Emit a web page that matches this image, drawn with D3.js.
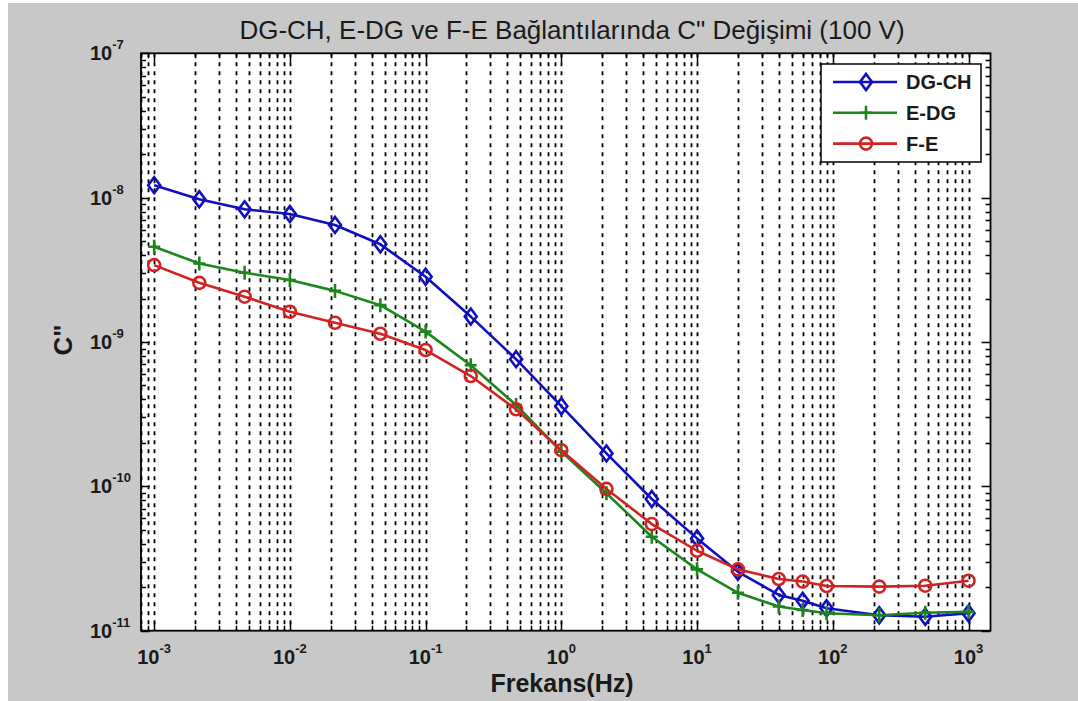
<!DOCTYPE html>
<html><head><meta charset="utf-8">
<script src="https://cdn.jsdelivr.net/npm/d3@7"></script>
<style>
html,body{margin:0;padding:0;background:#fff;}
svg{display:block;}
</style></head>
<body>
<svg id="chart" width="1078" height="701"></svg>
<script>
// ---- data ----
const freqs = [0.001, 0.00215, 0.00464, 0.01, 0.0215, 0.0464, 0.1, 0.215, 0.464, 1, 2.15, 4.64, 10, 20, 40, 60, 90, 220, 480, 1000];
const dgch = [1.22e-8, 9.75e-9, 8.3e-9, 7.7e-9, 6.47e-9, 4.75e-9, 2.83e-9, 1.5e-9, 7.6e-10, 3.59e-10, 1.69e-10, 8.17e-11, 4.36e-11, 2.56e-11, 1.77e-11, 1.61e-11, 1.43e-11, 1.28e-11, 1.25e-11, 1.32e-11];
const edg = [4.57e-9, 3.5e-9, 3.02e-9, 2.69e-9, 2.26e-9, 1.8e-9, 1.18e-9, 6.9e-10, 3.66e-10, 1.74e-10, 8.95e-11, 4.48e-11, 2.66e-11, 1.83e-11, 1.47e-11, 1.39e-11, 1.32e-11, 1.28e-11, 1.33e-11, 1.35e-11];
const fe = [3.41e-9, 2.57e-9, 2.06e-9, 1.62e-9, 1.36e-9, 1.14e-9, 8.8e-10, 5.81e-10, 3.42e-10, 1.78e-10, 9.6e-11, 5.48e-11, 3.58e-11, 2.66e-11, 2.28e-11, 2.19e-11, 2.04e-11, 2.02e-11, 2.05e-11, 2.22e-11];
const seriesNames = ["DG-CH", "E-DG", "F-E"];
const xTickExps = [-3, -2, -1, 0, 1, 2, 3];
const yTickExps = [-7, -8, -9, -10, -11];
const titleText = "DG-CH, E-DG ve F-E Bağlantılarında C\" Değişimi (100 V)";
const xLabelText = "Frekans(Hz)";
const yLabelText = "C\"";

const series = [
  {name: seriesNames[0], values: dgch, color: "#0f0fc0", marker: "diamond"},
  {name: seriesNames[1], values: edg, color: "#1c861c", marker: "plus"},
  {name: seriesNames[2], values: fe, color: "#d22222", marker: "circle"}
];

const W = 1078, H = 701;
const L = 141, T = 53.3, R = 990.5, B = 630.7;
const svg = d3.select("#chart");

// background
svg.append("rect").attr("x",0).attr("y",0).attr("width",W).attr("height",H).attr("fill","#ffffff");
svg.append("rect").attr("x",8).attr("y",3).attr("width",W-8).attr("height",H-3).attr("fill","#c8c8c8");

const x = d3.scaleLog().domain([0.0008, 1452]).range([L, R]);
const y = d3.scaleLog().domain([1e-11, 1e-7]).range([B, T]);

svg.append("rect").attr("x",L).attr("y",T).attr("width",R-L).attr("height",B-T).attr("fill","#fff");

// minor/major x values
const xAll = [];
for (let e = -4; e <= 3; e++) for (let m = 1; m <= 9; m++) {
  const v = m * Math.pow(10, e);
  if (v >= 0.0008 * 0.999 && v <= 1452) xAll.push(v);
}
const yAll = [];
for (let e = -11; e <= -8; e++) for (let m = 1; m <= 9; m++) yAll.push(m * Math.pow(10, e));
yAll.push(1e-7);

// vertical grid
svg.append("g").selectAll("line").data(xAll).join("line")
  .attr("x1", d => Math.round(x(d)) + 0.5).attr("x2", d => Math.round(x(d)) + 0.5)
  .attr("y1", T).attr("y2", B)
  .attr("stroke", "#000").attr("stroke-width", 1.8).attr("stroke-dasharray", "4,5");

// ticks
const isMajor = v => Math.abs(Math.log10(v) - Math.round(Math.log10(v))) < 1e-6;
const tg = svg.append("g").attr("stroke", "#000").attr("stroke-width", 1.5);
xAll.forEach(v => {
  const len = isMajor(v) ? 9 : 5;
  const px = Math.round(x(v)) + 0.5;
  tg.append("line").attr("x1", px).attr("x2", px).attr("y1", B).attr("y2", B - len);
  tg.append("line").attr("x1", px).attr("x2", px).attr("y1", T).attr("y2", T + len);
});
yAll.forEach(v => {
  const len = isMajor(v) ? 9 : 5;
  const py = Math.round(y(v)) + 0.5;
  tg.append("line").attr("x1", L).attr("x2", L + len).attr("y1", py).attr("y2", py);
  tg.append("line").attr("x1", R).attr("x2", R - len).attr("y1", py).attr("y2", py);
});

// lines
const line = d3.line().x((d, i) => x(freqs[i])).y(d => y(d));
const markerPath = {
  diamond: "M0,-8L6,0L0,8L-6,0Z",
  plus: "M-6,0L6,0M0,-7L0,7",
  circle: d3.symbol().type(d3.symbolCircle).size(Math.PI * 36)()
};
series.forEach(s => {
  svg.append("path").datum(s.values).attr("d", line)
    .attr("fill", "none").attr("stroke", s.color).attr("stroke-width", 2.6).attr("stroke-linejoin", "round");
  svg.append("g").selectAll("path").data(s.values).join("path")
    .attr("transform", (d, i) => `translate(${x(freqs[i])},${y(d)})`)
    .attr("d", markerPath[s.marker])
    .attr("fill", "none").attr("stroke", s.color).attr("stroke-width", 2.6);
});

// axes box
svg.append("rect").attr("x",L).attr("y",T).attr("width",R-L).attr("height",B-T)
  .attr("fill","none").attr("stroke","#000").attr("stroke-width",1.8);

const font = "Liberation Sans, Arial, sans-serif";
// x tick labels
xTickExps.forEach(e => {
  const t = svg.append("text").attr("x", x(Math.pow(10, e))).attr("y", 664)
    .attr("text-anchor", "middle").attr("font-family", font).attr("font-weight", "bold")
    .attr("font-size", 20).attr("fill", "#1a1a1a");
  t.append("tspan").text("10");
  t.append("tspan").attr("dy", -11).attr("font-size", 13).text(e);
});
// y tick labels
yTickExps.forEach(e => {
  const t = svg.append("text").attr("x", 90).attr("y", y(Math.pow(10, e)) + 7)
    .attr("text-anchor", "start").attr("font-family", font).attr("font-weight", "bold")
    .attr("font-size", 20).attr("fill", "#1a1a1a");
  t.append("tspan").text("10");
  t.append("tspan").attr("dy", -11).attr("font-size", 13).text(e);
});

// title
svg.append("text").attr("x", 572).attr("y", 39).attr("text-anchor", "middle")
  .attr("font-family", font).attr("font-size", 26).attr("fill", "#1a1a1a").text(titleText);
// x label
svg.append("text").attr("x", 562).attr("y", 692).attr("text-anchor", "middle")
  .attr("font-family", font).attr("font-weight", "bold").attr("font-size", 25).attr("fill", "#1a1a1a").text(xLabelText);
// y label
svg.append("text").attr("transform", "translate(72,340) rotate(-90)").attr("text-anchor", "middle")
  .attr("font-family", font).attr("font-weight", "bold").attr("font-size", 26).attr("fill", "#1a1a1a").text(yLabelText);

// legend
const lg = svg.append("g");
lg.append("rect").attr("x", 821).attr("y", 64).attr("width", 160).attr("height", 98)
  .attr("fill", "#fff").attr("stroke", "#000").attr("stroke-width", 1.5);
series.forEach((s, i) => {
  const ly = 82 + i * 30.8;
  lg.append("line").attr("x1", 833).attr("x2", 897).attr("y1", ly).attr("y2", ly)
    .attr("stroke", s.color).attr("stroke-width", 2.6);
  lg.append("path").attr("transform", `translate(866,${ly})`).attr("d", markerPath[s.marker])
    .attr("fill", "none").attr("stroke", s.color).attr("stroke-width", 2.6);
  lg.append("text").attr("x", 906).attr("y", ly + 7).attr("font-family", font).attr("font-weight", "bold")
    .attr("font-size", 20).attr("fill", "#1a1a1a").text(s.name);
});
</script>
</body></html>
